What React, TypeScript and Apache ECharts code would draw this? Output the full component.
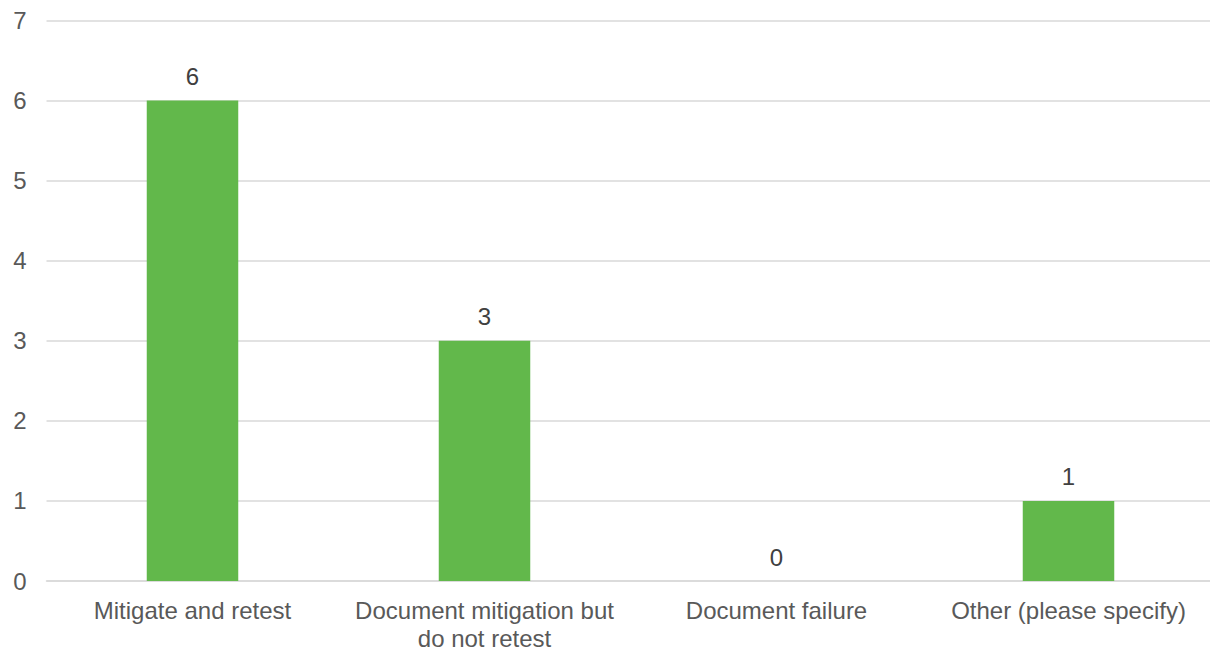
import React, { useEffect, useRef } from "react";
import * as echarts from "echarts";

const categories = [
  "Mitigate and retest",
  "Document mitigation but do not retest",
  "Document failure",
  "Other (please specify)",
];
const counts = [6, 3, 0, 1];
const yTicks = [0, 1, 2, 3, 4, 5, 6, 7];

// Category names that are set on two lines under the axis
const wrappedLabels: Record<string, string> = {
  "Document mitigation but do not retest": "Document mitigation but\ndo not retest",
};

const FONT = "'Liberation Sans', Arial, sans-serif";
const TEXT = "#595959";

export default function App() {
  const ref = useRef<HTMLDivElement>(null);

  useEffect(() => {
    if (!ref.current) return;
    const chart = echarts.init(ref.current, null, { renderer: "svg" });
    chart.setOption({
      animation: false,
      textStyle: { fontFamily: FONT },
      // plot area runs slightly past the right edge, so the grid lines reach it
      grid: {
        left: 46.5,
        width: 1168,
        top: 20.5,
        bottom: 71,
        containLabel: false,
        outerBoundsMode: "none",
      },
      xAxis: {
        type: "category",
        data: categories,
        axisLine: { show: true, lineStyle: { color: "#D9D9D9", width: 1.5 } },
        axisTick: { show: false },
        axisLabel: {
          color: TEXT,
          fontSize: 24,
          fontFamily: FONT,
          margin: 15,
          lineHeight: 28,
          interval: 0,
          formatter: (v: string) => wrappedLabels[v] ?? v,
        },
      },
      yAxis: {
        type: "value",
        min: yTicks[0],
        max: yTicks[yTicks.length - 1],
        interval: 1,
        axisLine: { show: false },
        axisTick: { show: false },
        axisLabel: { color: TEXT, fontSize: 24, fontFamily: FONT, margin: 20 },
        splitLine: { lineStyle: { color: "#D9D9D9", width: 1.5 } },
      },
      series: [
        {
          type: "bar",
          data: counts,
          barWidth: 91.5,
          itemStyle: { color: "#62B84B" },
          label: {
            show: true,
            position: "top",
            distance: 12,
            color: "#404040",
            fontSize: 24,
            fontFamily: FONT,
          },
        },
      ],
    });
    return () => chart.dispose();
  }, []);

  return (
    <div
      ref={ref}
      style={{ position: "fixed", left: 0, top: 0, width: 1210, height: 652, background: "#fff" }}
    />
  );
}
